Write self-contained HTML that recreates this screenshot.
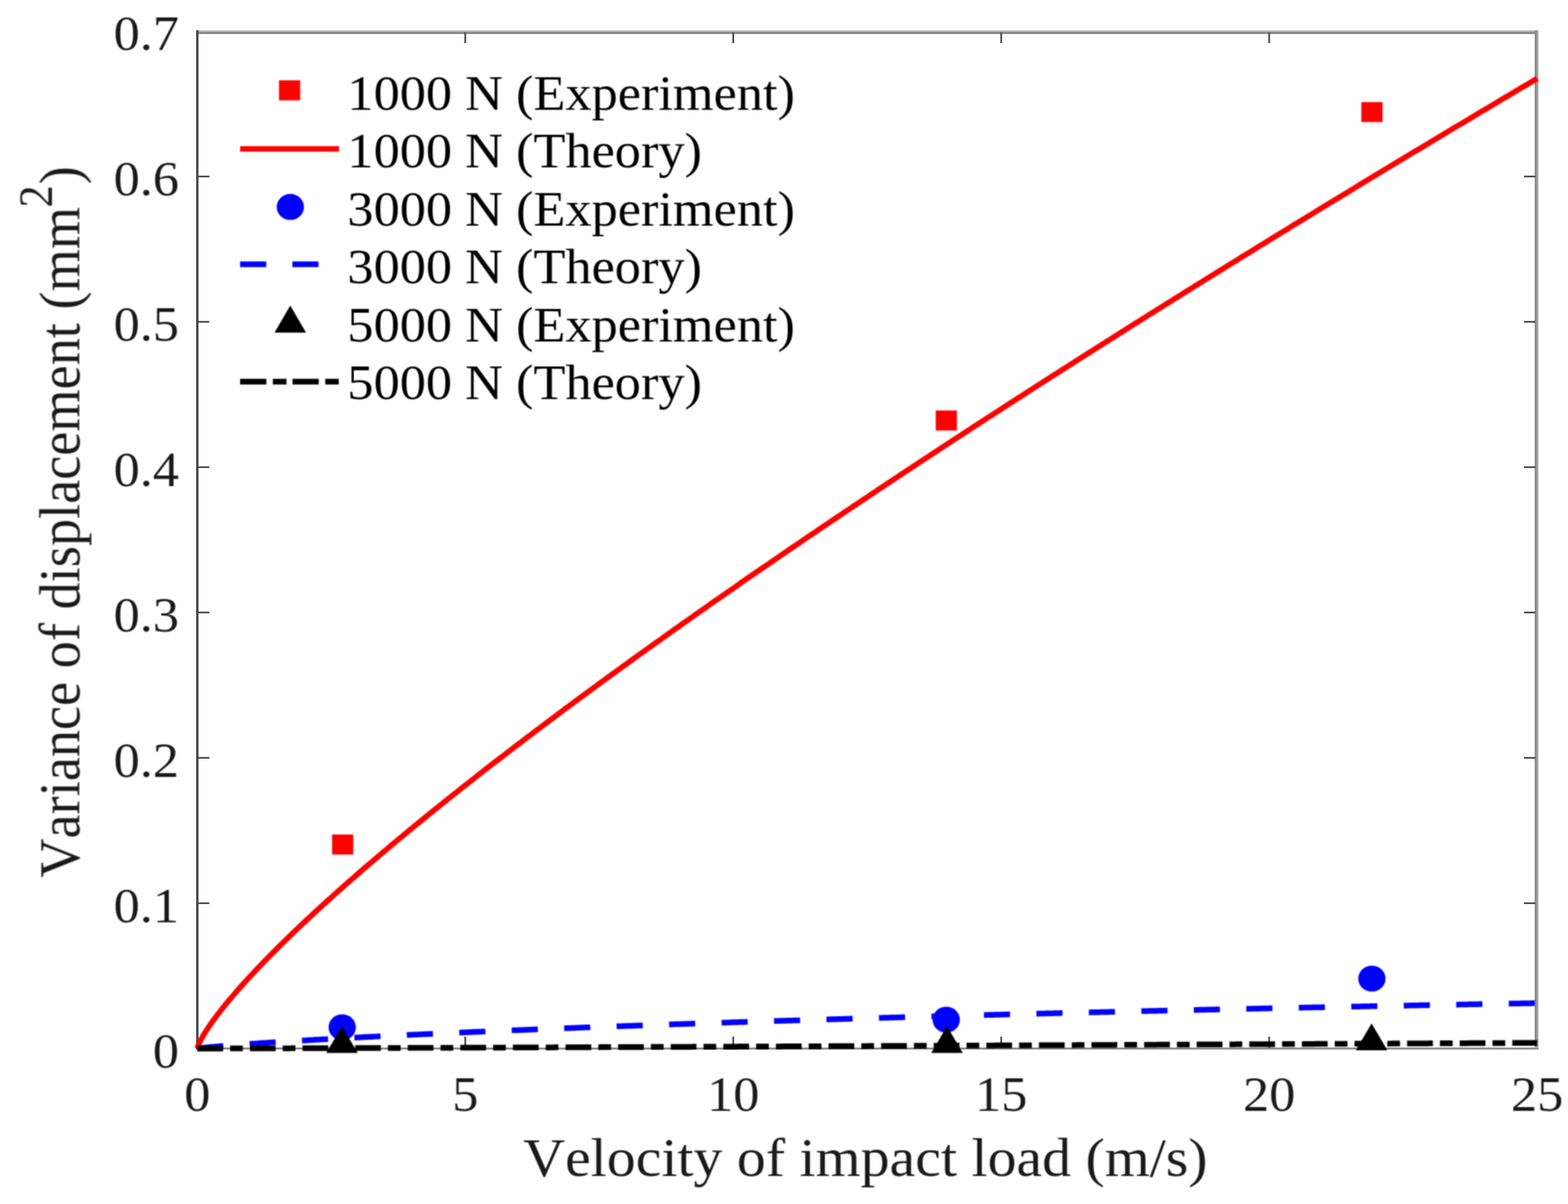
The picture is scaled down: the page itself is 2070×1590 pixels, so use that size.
<!DOCTYPE html>
<html><head><meta charset="utf-8"><title>Variance of displacement vs velocity</title>
<style>html,body{margin:0;padding:0;background:#fff;overflow:hidden}svg{display:block}text{font-family:"Liberation Serif","Times New Roman",serif;font-kerning:none;font-feature-settings:"kern" 0}</style></head><body>
<svg width="2070" height="1590" viewBox="0 0 2070 1590"><defs><filter id="soft" x="0" y="0" width="2070" height="1590" filterUnits="userSpaceOnUse" primitiveUnits="userSpaceOnUse" color-interpolation-filters="sRGB"><feConvolveMatrix order="3" kernelMatrix="1 2 1 2 4 2 1 2 1" divisor="16" edgeMode="none"/></filter></defs>
<rect width="2070" height="1590" fill="#fff"/>
<g id="axes" shape-rendering="crispEdges">
<rect x="259.3" y="40" width="1771.6" height="2" fill="#bdbdbd"/>
<rect x="259.3" y="42" width="1771.6" height="2.5" fill="#8a8a8a"/>
<rect x="2026.2" y="40" width="2.4" height="1346" fill="#8e8e8e"/>
<rect x="2028.6" y="40" width="2.3" height="1346" fill="#ababab"/>
<rect x="259.3" y="1382.6" width="1771.6" height="1.6" fill="#b5b5b5"/>
<rect x="259.3" y="1384.2" width="1771.6" height="1.8" fill="#909090"/>
<rect x="259.3" y="40" width="2.5" height="1346" fill="#474747"/>
</g>
<g id="ticks" stroke="#4a4a4a" stroke-width="2.3">
<line x1="614.25" y1="1384" x2="614.25" y2="1369"/>
<line x1="614.25" y1="43" x2="614.25" y2="57"/>
<line x1="968.00" y1="1384" x2="968.00" y2="1369"/>
<line x1="968.00" y1="43" x2="968.00" y2="57"/>
<line x1="1321.75" y1="1384" x2="1321.75" y2="1369"/>
<line x1="1321.75" y1="43" x2="1321.75" y2="57"/>
<line x1="1675.50" y1="1384" x2="1675.50" y2="1369"/>
<line x1="1675.50" y1="43" x2="1675.50" y2="57"/>
<line x1="261.5" y1="1192.76" x2="276.4" y2="1192.76"/>
<line x1="2027" y1="1192.76" x2="2012" y2="1192.76"/>
<line x1="261.5" y1="1000.82" x2="276.4" y2="1000.82"/>
<line x1="2027" y1="1000.82" x2="2012" y2="1000.82"/>
<line x1="261.5" y1="808.88" x2="276.4" y2="808.88"/>
<line x1="2027" y1="808.88" x2="2012" y2="808.88"/>
<line x1="261.5" y1="616.94" x2="276.4" y2="616.94"/>
<line x1="2027" y1="616.94" x2="2012" y2="616.94"/>
<line x1="261.5" y1="425.00" x2="276.4" y2="425.00"/>
<line x1="2027" y1="425.00" x2="2012" y2="425.00"/>
<line x1="261.5" y1="233.06" x2="276.4" y2="233.06"/>
<line x1="2027" y1="233.06" x2="2012" y2="233.06"/>
</g>
<g filter="url(#soft)">
<g id="yticklabels" fill="#1a1a1a" font-size="66">
<text transform="translate(236.4,1409.50) scale(1.047,1)" text-anchor="end">0</text>
<text transform="translate(236.4,1217.56) scale(1.047,1)" text-anchor="end">0.1</text>
<text transform="translate(236.4,1025.62) scale(1.047,1)" text-anchor="end">0.2</text>
<text transform="translate(236.4,833.68) scale(1.047,1)" text-anchor="end">0.3</text>
<text transform="translate(236.4,641.74) scale(1.047,1)" text-anchor="end">0.4</text>
<text transform="translate(236.4,449.80) scale(1.047,1)" text-anchor="end">0.5</text>
<text transform="translate(236.4,257.86) scale(1.047,1)" text-anchor="end">0.6</text>
<text transform="translate(236.4,65.92) scale(1.047,1)" text-anchor="end">0.7</text>
</g>
<g id="xticklabels" fill="#1a1a1a" font-size="66">
<text transform="translate(260.50,1467) scale(1.047,1)" text-anchor="middle">0</text>
<text transform="translate(614.25,1467) scale(1.047,1)" text-anchor="middle">5</text>
<text transform="translate(968.00,1467) scale(1.047,1)" text-anchor="middle">10</text>
<text transform="translate(1321.75,1467) scale(1.047,1)" text-anchor="middle">15</text>
<text transform="translate(1675.50,1467) scale(1.047,1)" text-anchor="middle">20</text>
<text transform="translate(2029.25,1467) scale(1.047,1)" text-anchor="middle">25</text>
</g>
<text id="xlabel" fill="#1a1a1a" font-size="72.6" transform="translate(1142.5,1552.5) scale(1.052,1)" text-anchor="middle">Velocity of impact load (m/s)</text>
<g id="ylabel" fill="#1a1a1a" transform="translate(105,1159.1) scale(1.061,1) rotate(-90)"><text font-size="71.7">Variance of displacement (mm</text><text x="884.9" y="-34.2" font-size="59">2</text><text x="915.8" font-size="71.7">)</text></g>
<g id="data" fill="none" stroke-linejoin="round">
<path d="M260.50,1384.70 L261.09,1382.40 L261.68,1380.77 L262.27,1379.32 L262.86,1377.97 L263.45,1376.70 L264.04,1375.48 L264.63,1374.31 L265.22,1373.17 L265.81,1372.07 L266.40,1370.98 L266.99,1369.93 L267.57,1368.89 L268.16,1367.87 L268.75,1366.87 L269.34,1365.89 L269.93,1364.91 L270.52,1363.95 L271.11,1363.01 L271.70,1362.07 L272.29,1361.14 L272.88,1360.23 L273.47,1359.32 L274.06,1358.42 L274.65,1357.53 L275.24,1356.65 L275.83,1355.78 L276.42,1354.91 L277.01,1354.05 L277.60,1353.19 L278.19,1352.35 L278.78,1351.50 L279.37,1350.67 L279.96,1349.84 L280.55,1349.01 L281.14,1348.19 L281.73,1347.37 L282.31,1346.56 L282.90,1345.76 L283.49,1344.95 L284.08,1344.16 L284.67,1343.36 L285.26,1342.57 L285.85,1341.79 L286.44,1341.00 L287.03,1340.23 L287.62,1339.45 L288.21,1338.68 L288.80,1337.91 L289.39,1337.15 L289.98,1336.39 L290.57,1335.63 L291.16,1334.87 L291.75,1334.12 L292.34,1333.37 L292.93,1332.62 L293.52,1331.88 L294.11,1331.14 L294.70,1330.40 L295.29,1329.67 L295.88,1328.93 L298.77,1325.37 L301.66,1321.86 L304.56,1318.41 L307.45,1314.99 L310.34,1311.63 L313.24,1308.30 L316.13,1305.00 L319.03,1301.75 L321.92,1298.52 L324.81,1295.33 L327.71,1292.16 L330.60,1289.02 L333.49,1285.91 L336.39,1282.82 L339.28,1279.75 L342.18,1276.71 L345.07,1273.69 L347.96,1270.69 L350.86,1267.71 L353.75,1264.75 L356.64,1261.80 L359.54,1258.88 L362.43,1255.97 L365.33,1253.08 L368.22,1250.20 L371.11,1247.34 L374.01,1244.49 L376.90,1241.65 L379.79,1238.84 L382.69,1236.03 L385.58,1233.24 L388.48,1230.46 L391.37,1227.69 L394.26,1224.93 L397.16,1222.19 L400.05,1219.45 L402.94,1216.73 L405.84,1214.02 L408.73,1211.32 L411.63,1208.63 L414.52,1205.95 L417.41,1203.28 L420.31,1200.62 L423.20,1197.96 L426.10,1195.32 L428.99,1192.69 L431.88,1190.06 L434.78,1187.45 L437.67,1184.84 L440.56,1182.24 L443.46,1179.64 L446.35,1177.06 L449.25,1174.48 L452.14,1171.92 L455.03,1169.35 L457.93,1166.80 L460.82,1164.25 L463.71,1161.71 L466.61,1159.18 L469.50,1156.65 L472.40,1154.13 L475.29,1151.62 L478.18,1149.11 L481.08,1146.61 L483.97,1144.12 L486.86,1141.63 L489.76,1139.15 L492.65,1136.68 L495.55,1134.21 L498.44,1131.74 L501.33,1129.28 L504.23,1126.83 L507.12,1124.38 L510.01,1121.94 L512.91,1119.51 L515.80,1117.08 L518.70,1114.65 L521.59,1112.23 L524.48,1109.81 L527.38,1107.40 L530.27,1105.00 L533.17,1102.60 L536.06,1100.20 L538.95,1097.81 L541.85,1095.42 L544.74,1093.04 L547.63,1090.66 L550.53,1088.29 L553.42,1085.92 L556.32,1083.56 L559.21,1081.20 L562.10,1078.84 L565.00,1076.49 L567.89,1074.15 L570.78,1071.80 L573.68,1069.46 L576.57,1067.13 L579.47,1064.80 L582.36,1062.47 L585.25,1060.15 L588.15,1057.83 L591.04,1055.52 L593.93,1053.20 L596.83,1050.90 L599.72,1048.59 L602.62,1046.29 L605.51,1044.00 L608.40,1041.70 L611.30,1039.41 L614.19,1037.13 L617.08,1034.85 L619.98,1032.57 L622.87,1030.29 L625.77,1028.02 L628.66,1025.75 L631.55,1023.49 L634.45,1021.22 L637.34,1018.97 L640.23,1016.71 L643.13,1014.46 L646.02,1012.21 L648.92,1009.96 L651.81,1007.72 L654.70,1005.48 L657.60,1003.24 L660.49,1001.01 L663.39,998.78 L666.28,996.55 L669.17,994.32 L672.07,992.10 L674.96,989.88 L677.85,987.67 L680.75,985.45 L683.64,983.24 L686.54,981.04 L689.43,978.83 L692.32,976.63 L695.22,974.43 L698.11,972.23 L701.00,970.04 L703.90,967.85 L706.79,965.66 L709.69,963.47 L712.58,961.29 L715.47,959.11 L718.37,956.93 L721.26,954.75 L724.15,952.58 L727.05,950.41 L729.94,948.24 L732.84,946.07 L735.73,943.91 L738.62,941.75 L741.52,939.59 L744.41,937.43 L747.30,935.28 L750.20,933.12 L753.09,930.98 L755.99,928.83 L758.88,926.68 L761.77,924.54 L764.67,922.40 L767.56,920.26 L770.46,918.13 L773.35,915.99 L776.24,913.86 L779.14,911.73 L782.03,909.60 L784.92,907.48 L787.82,905.36 L790.71,903.24 L793.61,901.12 L796.50,899.00 L799.39,896.89 L802.29,894.77 L805.18,892.66 L808.07,890.56 L810.97,888.45 L813.86,886.35 L816.76,884.24 L819.65,882.14 L822.54,880.05 L825.44,877.95 L828.33,875.85 L831.22,873.76 L834.12,871.67 L837.01,869.58 L839.91,867.50 L842.80,865.41 L845.69,863.33 L848.59,861.25 L851.48,859.17 L854.37,857.09 L857.27,855.02 L860.16,852.94 L863.06,850.87 L865.95,848.80 L868.84,846.73 L871.74,844.67 L874.63,842.60 L877.53,840.54 L880.42,838.48 L883.31,836.42 L886.21,834.36 L889.10,832.30 L891.99,830.25 L894.89,828.20 L897.78,826.15 L900.68,824.10 L903.57,822.05 L906.46,820.00 L909.36,817.96 L912.25,815.92 L915.14,813.88 L918.04,811.84 L920.93,809.80 L923.83,807.76 L926.72,805.73 L929.61,803.70 L932.51,801.66 L935.40,799.63 L938.29,797.61 L941.19,795.58 L944.08,793.55 L946.98,791.53 L949.87,789.51 L952.76,787.49 L955.66,785.47 L958.55,783.45 L961.44,781.44 L964.34,779.42 L967.23,777.41 L970.13,775.40 L973.02,773.39 L975.91,771.38 L978.81,769.37 L981.70,767.37 L984.59,765.36 L987.49,763.36 L990.38,761.36 L993.28,759.36 L996.17,757.36 L999.06,755.36 L1001.96,753.37 L1004.85,751.37 L1007.75,749.38 L1010.64,747.39 L1013.53,745.40 L1016.43,743.41 L1019.32,741.42 L1022.21,739.44 L1025.11,737.45 L1028.00,735.47 L1030.90,733.49 L1033.79,731.50 L1036.68,729.53 L1039.58,727.55 L1042.47,725.57 L1045.36,723.59 L1048.26,721.62 L1051.15,719.65 L1054.05,717.68 L1056.94,715.71 L1059.83,713.74 L1062.73,711.77 L1065.62,709.80 L1068.51,707.84 L1071.41,705.87 L1074.30,703.91 L1077.20,701.95 L1080.09,699.99 L1082.98,698.03 L1085.88,696.07 L1088.77,694.12 L1091.66,692.16 L1094.56,690.21 L1097.45,688.25 L1100.35,686.30 L1103.24,684.35 L1106.13,682.40 L1109.03,680.45 L1111.92,678.51 L1114.82,676.56 L1117.71,674.62 L1120.60,672.67 L1123.50,670.73 L1126.39,668.79 L1129.28,666.85 L1132.18,664.91 L1135.07,662.97 L1137.97,661.03 L1140.86,659.10 L1143.75,657.16 L1146.65,655.23 L1149.54,653.30 L1152.43,651.37 L1155.33,649.44 L1158.22,647.51 L1161.12,645.58 L1164.01,643.66 L1166.90,641.73 L1169.80,639.81 L1172.69,637.88 L1175.58,635.96 L1178.48,634.04 L1181.37,632.12 L1184.27,630.20 L1187.16,628.28 L1190.05,626.36 L1192.95,624.45 L1195.84,622.53 L1198.73,620.62 L1201.63,618.71 L1204.52,616.79 L1207.42,614.88 L1210.31,612.97 L1213.20,611.07 L1216.10,609.16 L1218.99,607.25 L1221.89,605.35 L1224.78,603.44 L1227.67,601.54 L1230.57,599.64 L1233.46,597.73 L1236.35,595.83 L1239.25,593.93 L1242.14,592.03 L1245.04,590.14 L1247.93,588.24 L1250.82,586.34 L1253.72,584.45 L1256.61,582.56 L1259.50,580.66 L1262.40,578.77 L1265.29,576.88 L1268.19,574.99 L1271.08,573.10 L1273.97,571.21 L1276.87,569.33 L1279.76,567.44 L1282.65,565.56 L1285.55,563.67 L1288.44,561.79 L1291.34,559.91 L1294.23,558.02 L1297.12,556.14 L1300.02,554.26 L1302.91,552.39 L1305.80,550.51 L1308.70,548.63 L1311.59,546.76 L1314.49,544.88 L1317.38,543.01 L1320.27,541.13 L1323.17,539.26 L1326.06,537.39 L1328.95,535.52 L1331.85,533.65 L1334.74,531.78 L1337.64,529.91 L1340.53,528.04 L1343.42,526.18 L1346.32,524.31 L1349.21,522.45 L1352.11,520.59 L1355.00,518.72 L1357.89,516.86 L1360.79,515.00 L1363.68,513.14 L1366.57,511.28 L1369.47,509.42 L1372.36,507.56 L1375.26,505.71 L1378.15,503.85 L1381.04,502.00 L1383.94,500.14 L1386.83,498.29 L1389.72,496.44 L1392.62,494.58 L1395.51,492.73 L1398.41,490.88 L1401.30,489.03 L1404.19,487.19 L1407.09,485.34 L1409.98,483.49 L1412.87,481.65 L1415.77,479.80 L1418.66,477.96 L1421.56,476.11 L1424.45,474.27 L1427.34,472.43 L1430.24,470.59 L1433.13,468.75 L1436.02,466.91 L1438.92,465.07 L1441.81,463.23 L1444.71,461.39 L1447.60,459.56 L1450.49,457.72 L1453.39,455.89 L1456.28,454.05 L1459.18,452.22 L1462.07,450.38 L1464.96,448.55 L1467.86,446.72 L1470.75,444.89 L1473.64,443.06 L1476.54,441.23 L1479.43,439.40 L1482.33,437.58 L1485.22,435.75 L1488.11,433.93 L1491.01,432.10 L1493.90,430.28 L1496.79,428.45 L1499.69,426.63 L1502.58,424.81 L1505.48,422.99 L1508.37,421.17 L1511.26,419.35 L1514.16,417.53 L1517.05,415.71 L1519.94,413.89 L1522.84,412.07 L1525.73,410.26 L1528.63,408.44 L1531.52,406.63 L1534.41,404.81 L1537.31,403.00 L1540.20,401.19 L1543.09,399.37 L1545.99,397.56 L1548.88,395.75 L1551.78,393.94 L1554.67,392.13 L1557.56,390.32 L1560.46,388.52 L1563.35,386.71 L1566.24,384.90 L1569.14,383.10 L1572.03,381.29 L1574.93,379.49 L1577.82,377.68 L1580.71,375.88 L1583.61,374.08 L1586.50,372.28 L1589.40,370.48 L1592.29,368.68 L1595.18,366.88 L1598.08,365.08 L1600.97,363.28 L1603.86,361.48 L1606.76,359.69 L1609.65,357.89 L1612.55,356.09 L1615.44,354.30 L1618.33,352.50 L1621.23,350.71 L1624.12,348.92 L1627.01,347.13 L1629.91,345.33 L1632.80,343.54 L1635.70,341.75 L1638.59,339.96 L1641.48,338.17 L1644.38,336.39 L1647.27,334.60 L1650.16,332.81 L1653.06,331.02 L1655.95,329.24 L1658.85,327.45 L1661.74,325.67 L1664.63,323.88 L1667.53,322.10 L1670.42,320.32 L1673.31,318.54 L1676.21,316.75 L1679.10,314.97 L1682.00,313.19 L1684.89,311.41 L1687.78,309.64 L1690.68,307.86 L1693.57,306.08 L1696.47,304.30 L1699.36,302.53 L1702.25,300.75 L1705.15,298.97 L1708.04,297.20 L1710.93,295.43 L1713.83,293.65 L1716.72,291.88 L1719.62,290.11 L1722.51,288.34 L1725.40,286.57 L1728.30,284.79 L1731.19,283.03 L1734.08,281.26 L1736.98,279.49 L1739.87,277.72 L1742.77,275.95 L1745.66,274.18 L1748.55,272.42 L1751.45,270.65 L1754.34,268.89 L1757.23,267.12 L1760.13,265.36 L1763.02,263.60 L1765.92,261.83 L1768.81,260.07 L1771.70,258.31 L1774.60,256.55 L1777.49,254.79 L1780.38,253.03 L1783.28,251.27 L1786.17,249.51 L1789.07,247.75 L1791.96,245.99 L1794.85,244.24 L1797.75,242.48 L1800.64,240.73 L1803.54,238.97 L1806.43,237.22 L1809.32,235.46 L1812.22,233.71 L1815.11,231.95 L1818.00,230.20 L1820.90,228.45 L1823.79,226.70 L1826.69,224.95 L1829.58,223.20 L1832.47,221.45 L1835.37,219.70 L1838.26,217.95 L1841.15,216.20 L1844.05,214.45 L1846.94,212.71 L1849.84,210.96 L1852.73,209.21 L1855.62,207.47 L1858.52,205.72 L1861.41,203.98 L1864.30,202.24 L1867.20,200.49 L1870.09,198.75 L1872.99,197.01 L1875.88,195.27 L1878.77,193.53 L1881.67,191.79 L1884.56,190.04 L1887.45,188.31 L1890.35,186.57 L1893.24,184.83 L1896.14,183.09 L1899.03,181.35 L1901.92,179.62 L1904.82,177.88 L1907.71,176.14 L1910.60,174.41 L1913.50,172.67 L1916.39,170.94 L1919.29,169.21 L1922.18,167.47 L1925.07,165.74 L1927.97,164.01 L1930.86,162.28 L1933.76,160.54 L1936.65,158.81 L1939.54,157.08 L1942.44,155.35 L1945.33,153.62 L1948.22,151.90 L1951.12,150.17 L1954.01,148.44 L1956.91,146.71 L1959.80,144.99 L1962.69,143.26 L1965.59,141.53 L1968.48,139.81 L1971.37,138.08 L1974.27,136.36 L1977.16,134.64 L1980.06,132.91 L1982.95,131.19 L1985.84,129.47 L1988.74,127.75 L1991.63,126.02 L1994.52,124.30 L1997.42,122.58 L2000.31,120.86 L2003.21,119.14 L2006.10,117.43 L2008.99,115.71 L2011.89,113.99 L2014.78,112.27 L2017.67,110.55 L2020.57,108.84 L2023.46,107.12 L2026.36,105.41 L2029.25,103.69" stroke="#ff0000" stroke-width="7.3"/>
</g>
<rect x="438.40" y="1102.10" width="28" height="26.4" fill="#ff0000"/>
<rect x="1235.30" y="542.10" width="28" height="26.4" fill="#ff0000"/>
<rect x="1797.20" y="134.80" width="28" height="26.4" fill="#ff0000"/>
<ellipse cx="451.80" cy="1356.60" rx="18" ry="17.2" fill="#0000ff"/>
<ellipse cx="1249.20" cy="1346.70" rx="18" ry="17.2" fill="#0000ff"/>
<ellipse cx="1811.10" cy="1292.40" rx="18" ry="17.2" fill="#0000ff"/>
<path d="M260.50,1384.70 L261.09,1384.60 L261.68,1384.51 L262.27,1384.43 L262.86,1384.35 L263.45,1384.27 L264.04,1384.20 L264.63,1384.13 L265.22,1384.06 L265.81,1383.99 L266.40,1383.92 L266.99,1383.86 L267.57,1383.79 L268.16,1383.73 L268.75,1383.66 L269.34,1383.60 L269.93,1383.54 L270.52,1383.47 L271.11,1383.41 L271.70,1383.35 L272.29,1383.29 L272.88,1383.23 L273.47,1383.17 L274.06,1383.12 L274.65,1383.06 L275.24,1383.00 L275.83,1382.94 L276.42,1382.89 L277.01,1382.83 L277.60,1382.77 L278.19,1382.72 L278.78,1382.66 L279.37,1382.61 L279.96,1382.55 L280.55,1382.50 L281.14,1382.44 L281.73,1382.39 L282.31,1382.34 L282.90,1382.28 L283.49,1382.23 L284.08,1382.18 L284.67,1382.12 L285.26,1382.07 L285.85,1382.02 L286.44,1381.97 L287.03,1381.92 L287.62,1381.86 L288.21,1381.81 L288.80,1381.76 L289.39,1381.71 L289.98,1381.66 L290.57,1381.61 L291.16,1381.56 L291.75,1381.51 L292.34,1381.46 L292.93,1381.41 L293.52,1381.36 L294.11,1381.31 L294.70,1381.26 L295.29,1381.21 L295.88,1381.17 L298.77,1380.93 L301.66,1380.70 L304.56,1380.47 L307.45,1380.24 L310.34,1380.02 L313.24,1379.80 L316.13,1379.58 L319.03,1379.37 L321.92,1379.15 L324.81,1378.94 L327.71,1378.74 L330.60,1378.53 L333.49,1378.33 L336.39,1378.12 L339.28,1377.93 L342.18,1377.73 L345.07,1377.53 L347.96,1377.34 L350.86,1377.14 L353.75,1376.95 L356.64,1376.76 L359.54,1376.57 L362.43,1376.39 L365.33,1376.20 L368.22,1376.02 L371.11,1375.83 L374.01,1375.65 L376.90,1375.47 L379.79,1375.29 L382.69,1375.11 L385.58,1374.94 L388.48,1374.76 L391.37,1374.59 L394.26,1374.41 L397.16,1374.24 L400.05,1374.07 L402.94,1373.90 L405.84,1373.73 L408.73,1373.56 L411.63,1373.39 L414.52,1373.22 L417.41,1373.06 L420.31,1372.89 L423.20,1372.73 L426.10,1372.57 L428.99,1372.40 L431.88,1372.24 L434.78,1372.08 L437.67,1371.92 L440.56,1371.76 L443.46,1371.60 L446.35,1371.45 L449.25,1371.29 L452.14,1371.13 L455.03,1370.98 L457.93,1370.82 L460.82,1370.67 L463.71,1370.51 L466.61,1370.36 L469.50,1370.21 L472.40,1370.06 L475.29,1369.91 L478.18,1369.76 L481.08,1369.61 L483.97,1369.46 L486.86,1369.31 L489.76,1369.16 L492.65,1369.02 L495.55,1368.87 L498.44,1368.73 L501.33,1368.58 L504.23,1368.44 L507.12,1368.29 L510.01,1368.15 L512.91,1368.01 L515.80,1367.86 L518.70,1367.72 L521.59,1367.58 L524.48,1367.44 L527.38,1367.30 L530.27,1367.16 L533.17,1367.02 L536.06,1366.88 L538.95,1366.74 L541.85,1366.61 L544.74,1366.47 L547.63,1366.33 L550.53,1366.20 L553.42,1366.06 L556.32,1365.92 L559.21,1365.79 L562.10,1365.66 L565.00,1365.52 L567.89,1365.39 L570.78,1365.26 L573.68,1365.12 L576.57,1364.99 L579.47,1364.86 L582.36,1364.73 L585.25,1364.60 L588.15,1364.47 L591.04,1364.34 L593.93,1364.21 L596.83,1364.08 L599.72,1363.95 L602.62,1363.82 L605.51,1363.69 L608.40,1363.57 L611.30,1363.44 L614.19,1363.31 L617.08,1363.19 L619.98,1363.06 L622.87,1362.93 L625.77,1362.81 L628.66,1362.68 L631.55,1362.56 L634.45,1362.44 L637.34,1362.31 L640.23,1362.19 L643.13,1362.07 L646.02,1361.94 L648.92,1361.82 L651.81,1361.70 L654.70,1361.58 L657.60,1361.46 L660.49,1361.34 L663.39,1361.22 L666.28,1361.10 L669.17,1360.98 L672.07,1360.86 L674.96,1360.74 L677.85,1360.62 L680.75,1360.50 L683.64,1360.38 L686.54,1360.26 L689.43,1360.15 L692.32,1360.03 L695.22,1359.91 L698.11,1359.80 L701.00,1359.68 L703.90,1359.56 L706.79,1359.45 L709.69,1359.33 L712.58,1359.22 L715.47,1359.10 L718.37,1358.99 L721.26,1358.87 L724.15,1358.76 L727.05,1358.65 L729.94,1358.53 L732.84,1358.42 L735.73,1358.31 L738.62,1358.20 L741.52,1358.08 L744.41,1357.97 L747.30,1357.86 L750.20,1357.75 L753.09,1357.64 L755.99,1357.53 L758.88,1357.42 L761.77,1357.31 L764.67,1357.20 L767.56,1357.09 L770.46,1356.98 L773.35,1356.87 L776.24,1356.76 L779.14,1356.65 L782.03,1356.54 L784.92,1356.44 L787.82,1356.33 L790.71,1356.22 L793.61,1356.11 L796.50,1356.01 L799.39,1355.90 L802.29,1355.79 L805.18,1355.69 L808.07,1355.58 L810.97,1355.48 L813.86,1355.37 L816.76,1355.27 L819.65,1355.16 L822.54,1355.06 L825.44,1354.95 L828.33,1354.85 L831.22,1354.74 L834.12,1354.64 L837.01,1354.54 L839.91,1354.43 L842.80,1354.33 L845.69,1354.23 L848.59,1354.13 L851.48,1354.02 L854.37,1353.92 L857.27,1353.82 L860.16,1353.72 L863.06,1353.62 L865.95,1353.52 L868.84,1353.41 L871.74,1353.31 L874.63,1353.21 L877.53,1353.11 L880.42,1353.01 L883.31,1352.91 L886.21,1352.81 L889.10,1352.71 L891.99,1352.61 L894.89,1352.52 L897.78,1352.42 L900.68,1352.32 L903.57,1352.22 L906.46,1352.12 L909.36,1352.02 L912.25,1351.93 L915.14,1351.83 L918.04,1351.73 L920.93,1351.63 L923.83,1351.54 L926.72,1351.44 L929.61,1351.34 L932.51,1351.25 L935.40,1351.15 L938.29,1351.06 L941.19,1350.96 L944.08,1350.87 L946.98,1350.77 L949.87,1350.68 L952.76,1350.58 L955.66,1350.49 L958.55,1350.39 L961.44,1350.30 L964.34,1350.20 L967.23,1350.11 L970.13,1350.02 L973.02,1349.92 L975.91,1349.83 L978.81,1349.74 L981.70,1349.64 L984.59,1349.55 L987.49,1349.46 L990.38,1349.37 L993.28,1349.27 L996.17,1349.18 L999.06,1349.09 L1001.96,1349.00 L1004.85,1348.91 L1007.75,1348.82 L1010.64,1348.72 L1013.53,1348.63 L1016.43,1348.54 L1019.32,1348.45 L1022.21,1348.36 L1025.11,1348.27 L1028.00,1348.18 L1030.90,1348.09 L1033.79,1348.00 L1036.68,1347.91 L1039.58,1347.82 L1042.47,1347.73 L1045.36,1347.65 L1048.26,1347.56 L1051.15,1347.47 L1054.05,1347.38 L1056.94,1347.29 L1059.83,1347.20 L1062.73,1347.12 L1065.62,1347.03 L1068.51,1346.94 L1071.41,1346.85 L1074.30,1346.77 L1077.20,1346.68 L1080.09,1346.59 L1082.98,1346.50 L1085.88,1346.42 L1088.77,1346.33 L1091.66,1346.25 L1094.56,1346.16 L1097.45,1346.07 L1100.35,1345.99 L1103.24,1345.90 L1106.13,1345.82 L1109.03,1345.73 L1111.92,1345.65 L1114.82,1345.56 L1117.71,1345.48 L1120.60,1345.39 L1123.50,1345.31 L1126.39,1345.22 L1129.28,1345.14 L1132.18,1345.06 L1135.07,1344.97 L1137.97,1344.89 L1140.86,1344.80 L1143.75,1344.72 L1146.65,1344.64 L1149.54,1344.55 L1152.43,1344.47 L1155.33,1344.39 L1158.22,1344.31 L1161.12,1344.22 L1164.01,1344.14 L1166.90,1344.06 L1169.80,1343.98 L1172.69,1343.90 L1175.58,1343.81 L1178.48,1343.73 L1181.37,1343.65 L1184.27,1343.57 L1187.16,1343.49 L1190.05,1343.41 L1192.95,1343.33 L1195.84,1343.25 L1198.73,1343.16 L1201.63,1343.08 L1204.52,1343.00 L1207.42,1342.92 L1210.31,1342.84 L1213.20,1342.76 L1216.10,1342.68 L1218.99,1342.61 L1221.89,1342.53 L1224.78,1342.45 L1227.67,1342.37 L1230.57,1342.29 L1233.46,1342.21 L1236.35,1342.13 L1239.25,1342.05 L1242.14,1341.97 L1245.04,1341.90 L1247.93,1341.82 L1250.82,1341.74 L1253.72,1341.66 L1256.61,1341.58 L1259.50,1341.51 L1262.40,1341.43 L1265.29,1341.35 L1268.19,1341.27 L1271.08,1341.20 L1273.97,1341.12 L1276.87,1341.04 L1279.76,1340.97 L1282.65,1340.89 L1285.55,1340.81 L1288.44,1340.74 L1291.34,1340.66 L1294.23,1340.58 L1297.12,1340.51 L1300.02,1340.43 L1302.91,1340.36 L1305.80,1340.28 L1308.70,1340.21 L1311.59,1340.13 L1314.49,1340.06 L1317.38,1339.98 L1320.27,1339.91 L1323.17,1339.83 L1326.06,1339.76 L1328.95,1339.68 L1331.85,1339.61 L1334.74,1339.53 L1337.64,1339.46 L1340.53,1339.39 L1343.42,1339.31 L1346.32,1339.24 L1349.21,1339.16 L1352.11,1339.09 L1355.00,1339.02 L1357.89,1338.94 L1360.79,1338.87 L1363.68,1338.80 L1366.57,1338.73 L1369.47,1338.65 L1372.36,1338.58 L1375.26,1338.51 L1378.15,1338.44 L1381.04,1338.36 L1383.94,1338.29 L1386.83,1338.22 L1389.72,1338.15 L1392.62,1338.08 L1395.51,1338.00 L1398.41,1337.93 L1401.30,1337.86 L1404.19,1337.79 L1407.09,1337.72 L1409.98,1337.65 L1412.87,1337.58 L1415.77,1337.51 L1418.66,1337.43 L1421.56,1337.36 L1424.45,1337.29 L1427.34,1337.22 L1430.24,1337.15 L1433.13,1337.08 L1436.02,1337.01 L1438.92,1336.94 L1441.81,1336.87 L1444.71,1336.80 L1447.60,1336.73 L1450.49,1336.66 L1453.39,1336.59 L1456.28,1336.53 L1459.18,1336.46 L1462.07,1336.39 L1464.96,1336.32 L1467.86,1336.25 L1470.75,1336.18 L1473.64,1336.11 L1476.54,1336.04 L1479.43,1335.98 L1482.33,1335.91 L1485.22,1335.84 L1488.11,1335.77 L1491.01,1335.70 L1493.90,1335.64 L1496.79,1335.57 L1499.69,1335.50 L1502.58,1335.43 L1505.48,1335.37 L1508.37,1335.30 L1511.26,1335.23 L1514.16,1335.16 L1517.05,1335.10 L1519.94,1335.03 L1522.84,1334.96 L1525.73,1334.90 L1528.63,1334.83 L1531.52,1334.76 L1534.41,1334.70 L1537.31,1334.63 L1540.20,1334.57 L1543.09,1334.50 L1545.99,1334.43 L1548.88,1334.37 L1551.78,1334.30 L1554.67,1334.24 L1557.56,1334.17 L1560.46,1334.11 L1563.35,1334.04 L1566.24,1333.98 L1569.14,1333.91 L1572.03,1333.85 L1574.93,1333.78 L1577.82,1333.72 L1580.71,1333.65 L1583.61,1333.59 L1586.50,1333.52 L1589.40,1333.46 L1592.29,1333.39 L1595.18,1333.33 L1598.08,1333.27 L1600.97,1333.20 L1603.86,1333.14 L1606.76,1333.07 L1609.65,1333.01 L1612.55,1332.95 L1615.44,1332.88 L1618.33,1332.82 L1621.23,1332.76 L1624.12,1332.69 L1627.01,1332.63 L1629.91,1332.57 L1632.80,1332.50 L1635.70,1332.44 L1638.59,1332.38 L1641.48,1332.32 L1644.38,1332.25 L1647.27,1332.19 L1650.16,1332.13 L1653.06,1332.07 L1655.95,1332.01 L1658.85,1331.94 L1661.74,1331.88 L1664.63,1331.82 L1667.53,1331.76 L1670.42,1331.70 L1673.31,1331.64 L1676.21,1331.57 L1679.10,1331.51 L1682.00,1331.45 L1684.89,1331.39 L1687.78,1331.33 L1690.68,1331.27 L1693.57,1331.21 L1696.47,1331.15 L1699.36,1331.09 L1702.25,1331.03 L1705.15,1330.97 L1708.04,1330.90 L1710.93,1330.84 L1713.83,1330.78 L1716.72,1330.72 L1719.62,1330.66 L1722.51,1330.60 L1725.40,1330.54 L1728.30,1330.49 L1731.19,1330.43 L1734.08,1330.37 L1736.98,1330.31 L1739.87,1330.25 L1742.77,1330.19 L1745.66,1330.13 L1748.55,1330.07 L1751.45,1330.01 L1754.34,1329.95 L1757.23,1329.89 L1760.13,1329.83 L1763.02,1329.78 L1765.92,1329.72 L1768.81,1329.66 L1771.70,1329.60 L1774.60,1329.54 L1777.49,1329.48 L1780.38,1329.43 L1783.28,1329.37 L1786.17,1329.31 L1789.07,1329.25 L1791.96,1329.19 L1794.85,1329.14 L1797.75,1329.08 L1800.64,1329.02 L1803.54,1328.96 L1806.43,1328.91 L1809.32,1328.85 L1812.22,1328.79 L1815.11,1328.74 L1818.00,1328.68 L1820.90,1328.62 L1823.79,1328.56 L1826.69,1328.51 L1829.58,1328.45 L1832.47,1328.39 L1835.37,1328.34 L1838.26,1328.28 L1841.15,1328.23 L1844.05,1328.17 L1846.94,1328.11 L1849.84,1328.06 L1852.73,1328.00 L1855.62,1327.95 L1858.52,1327.89 L1861.41,1327.83 L1864.30,1327.78 L1867.20,1327.72 L1870.09,1327.67 L1872.99,1327.61 L1875.88,1327.56 L1878.77,1327.50 L1881.67,1327.45 L1884.56,1327.39 L1887.45,1327.34 L1890.35,1327.28 L1893.24,1327.23 L1896.14,1327.17 L1899.03,1327.12 L1901.92,1327.06 L1904.82,1327.01 L1907.71,1326.95 L1910.60,1326.90 L1913.50,1326.85 L1916.39,1326.79 L1919.29,1326.74 L1922.18,1326.68 L1925.07,1326.63 L1927.97,1326.58 L1930.86,1326.52 L1933.76,1326.47 L1936.65,1326.42 L1939.54,1326.36 L1942.44,1326.31 L1945.33,1326.25 L1948.22,1326.20 L1951.12,1326.15 L1954.01,1326.10 L1956.91,1326.04 L1959.80,1325.99 L1962.69,1325.94 L1965.59,1325.88 L1968.48,1325.83 L1971.37,1325.78 L1974.27,1325.73 L1977.16,1325.67 L1980.06,1325.62 L1982.95,1325.57 L1985.84,1325.52 L1988.74,1325.46 L1991.63,1325.41 L1994.52,1325.36 L1997.42,1325.31 L2000.31,1325.26 L2003.21,1325.20 L2006.10,1325.15 L2008.99,1325.10 L2011.89,1325.05 L2014.78,1325.00 L2017.67,1324.95 L2020.57,1324.90 L2023.46,1324.84 L2026.36,1324.79 L2029.25,1324.74" fill="none" stroke="#0000ff" stroke-width="7.5" stroke-dasharray="34.5 34.8"/>
<polygon points="451.50,1355.50 430.70,1390.50 472.30,1390.50" fill="#000"/>
<polygon points="1250.20,1355.20 1229.40,1390.50 1271.00,1390.50" fill="#000"/>
<polygon points="1810.70,1351.50 1789.90,1387.00 1831.50,1387.00" fill="#000"/>
<path d="M260.50,1384.70 L261.09,1384.70 L261.68,1384.70 L262.27,1384.70 L262.86,1384.70 L263.45,1384.70 L264.04,1384.70 L264.63,1384.69 L265.22,1384.69 L265.81,1384.69 L266.40,1384.69 L266.99,1384.69 L267.57,1384.69 L268.16,1384.69 L268.75,1384.69 L269.34,1384.69 L269.93,1384.68 L270.52,1384.68 L271.11,1384.68 L271.70,1384.68 L272.29,1384.68 L272.88,1384.68 L273.47,1384.68 L274.06,1384.68 L274.65,1384.68 L275.24,1384.67 L275.83,1384.67 L276.42,1384.67 L277.01,1384.67 L277.60,1384.67 L278.19,1384.67 L278.78,1384.67 L279.37,1384.66 L279.96,1384.66 L280.55,1384.66 L281.14,1384.66 L281.73,1384.66 L282.31,1384.66 L282.90,1384.66 L283.49,1384.66 L284.08,1384.65 L284.67,1384.65 L285.26,1384.65 L285.85,1384.65 L286.44,1384.65 L287.03,1384.65 L287.62,1384.65 L288.21,1384.64 L288.80,1384.64 L289.39,1384.64 L289.98,1384.64 L290.57,1384.64 L291.16,1384.64 L291.75,1384.64 L292.34,1384.63 L292.93,1384.63 L293.52,1384.63 L294.11,1384.63 L294.70,1384.63 L295.29,1384.63 L295.88,1384.63 L298.77,1384.62 L301.66,1384.61 L304.56,1384.60 L307.45,1384.60 L310.34,1384.59 L313.24,1384.58 L316.13,1384.57 L319.03,1384.57 L321.92,1384.56 L324.81,1384.55 L327.71,1384.54 L330.60,1384.53 L333.49,1384.53 L336.39,1384.52 L339.28,1384.51 L342.18,1384.50 L345.07,1384.49 L347.96,1384.48 L350.86,1384.48 L353.75,1384.47 L356.64,1384.46 L359.54,1384.45 L362.43,1384.44 L365.33,1384.43 L368.22,1384.42 L371.11,1384.42 L374.01,1384.41 L376.90,1384.40 L379.79,1384.39 L382.69,1384.38 L385.58,1384.37 L388.48,1384.36 L391.37,1384.35 L394.26,1384.34 L397.16,1384.34 L400.05,1384.33 L402.94,1384.32 L405.84,1384.31 L408.73,1384.30 L411.63,1384.29 L414.52,1384.28 L417.41,1384.27 L420.31,1384.26 L423.20,1384.25 L426.10,1384.24 L428.99,1384.23 L431.88,1384.22 L434.78,1384.21 L437.67,1384.20 L440.56,1384.19 L443.46,1384.18 L446.35,1384.18 L449.25,1384.17 L452.14,1384.16 L455.03,1384.15 L457.93,1384.14 L460.82,1384.13 L463.71,1384.12 L466.61,1384.11 L469.50,1384.10 L472.40,1384.09 L475.29,1384.08 L478.18,1384.07 L481.08,1384.06 L483.97,1384.05 L486.86,1384.04 L489.76,1384.03 L492.65,1384.02 L495.55,1384.01 L498.44,1384.00 L501.33,1383.99 L504.23,1383.98 L507.12,1383.97 L510.01,1383.96 L512.91,1383.95 L515.80,1383.94 L518.70,1383.93 L521.59,1383.92 L524.48,1383.91 L527.38,1383.89 L530.27,1383.88 L533.17,1383.87 L536.06,1383.86 L538.95,1383.85 L541.85,1383.84 L544.74,1383.83 L547.63,1383.82 L550.53,1383.81 L553.42,1383.80 L556.32,1383.79 L559.21,1383.78 L562.10,1383.77 L565.00,1383.76 L567.89,1383.75 L570.78,1383.74 L573.68,1383.73 L576.57,1383.72 L579.47,1383.71 L582.36,1383.70 L585.25,1383.68 L588.15,1383.67 L591.04,1383.66 L593.93,1383.65 L596.83,1383.64 L599.72,1383.63 L602.62,1383.62 L605.51,1383.61 L608.40,1383.60 L611.30,1383.59 L614.19,1383.58 L617.08,1383.57 L619.98,1383.55 L622.87,1383.54 L625.77,1383.53 L628.66,1383.52 L631.55,1383.51 L634.45,1383.50 L637.34,1383.49 L640.23,1383.48 L643.13,1383.47 L646.02,1383.46 L648.92,1383.44 L651.81,1383.43 L654.70,1383.42 L657.60,1383.41 L660.49,1383.40 L663.39,1383.39 L666.28,1383.38 L669.17,1383.37 L672.07,1383.36 L674.96,1383.34 L677.85,1383.33 L680.75,1383.32 L683.64,1383.31 L686.54,1383.30 L689.43,1383.29 L692.32,1383.28 L695.22,1383.27 L698.11,1383.25 L701.00,1383.24 L703.90,1383.23 L706.79,1383.22 L709.69,1383.21 L712.58,1383.20 L715.47,1383.19 L718.37,1383.18 L721.26,1383.16 L724.15,1383.15 L727.05,1383.14 L729.94,1383.13 L732.84,1383.12 L735.73,1383.11 L738.62,1383.10 L741.52,1383.08 L744.41,1383.07 L747.30,1383.06 L750.20,1383.05 L753.09,1383.04 L755.99,1383.03 L758.88,1383.01 L761.77,1383.00 L764.67,1382.99 L767.56,1382.98 L770.46,1382.97 L773.35,1382.96 L776.24,1382.94 L779.14,1382.93 L782.03,1382.92 L784.92,1382.91 L787.82,1382.90 L790.71,1382.89 L793.61,1382.87 L796.50,1382.86 L799.39,1382.85 L802.29,1382.84 L805.18,1382.83 L808.07,1382.82 L810.97,1382.80 L813.86,1382.79 L816.76,1382.78 L819.65,1382.77 L822.54,1382.76 L825.44,1382.75 L828.33,1382.73 L831.22,1382.72 L834.12,1382.71 L837.01,1382.70 L839.91,1382.69 L842.80,1382.67 L845.69,1382.66 L848.59,1382.65 L851.48,1382.64 L854.37,1382.63 L857.27,1382.61 L860.16,1382.60 L863.06,1382.59 L865.95,1382.58 L868.84,1382.57 L871.74,1382.55 L874.63,1382.54 L877.53,1382.53 L880.42,1382.52 L883.31,1382.51 L886.21,1382.49 L889.10,1382.48 L891.99,1382.47 L894.89,1382.46 L897.78,1382.45 L900.68,1382.43 L903.57,1382.42 L906.46,1382.41 L909.36,1382.40 L912.25,1382.39 L915.14,1382.37 L918.04,1382.36 L920.93,1382.35 L923.83,1382.34 L926.72,1382.32 L929.61,1382.31 L932.51,1382.30 L935.40,1382.29 L938.29,1382.28 L941.19,1382.26 L944.08,1382.25 L946.98,1382.24 L949.87,1382.23 L952.76,1382.21 L955.66,1382.20 L958.55,1382.19 L961.44,1382.18 L964.34,1382.16 L967.23,1382.15 L970.13,1382.14 L973.02,1382.13 L975.91,1382.12 L978.81,1382.10 L981.70,1382.09 L984.59,1382.08 L987.49,1382.07 L990.38,1382.05 L993.28,1382.04 L996.17,1382.03 L999.06,1382.02 L1001.96,1382.00 L1004.85,1381.99 L1007.75,1381.98 L1010.64,1381.97 L1013.53,1381.95 L1016.43,1381.94 L1019.32,1381.93 L1022.21,1381.92 L1025.11,1381.90 L1028.00,1381.89 L1030.90,1381.88 L1033.79,1381.87 L1036.68,1381.85 L1039.58,1381.84 L1042.47,1381.83 L1045.36,1381.82 L1048.26,1381.80 L1051.15,1381.79 L1054.05,1381.78 L1056.94,1381.77 L1059.83,1381.75 L1062.73,1381.74 L1065.62,1381.73 L1068.51,1381.72 L1071.41,1381.70 L1074.30,1381.69 L1077.20,1381.68 L1080.09,1381.66 L1082.98,1381.65 L1085.88,1381.64 L1088.77,1381.63 L1091.66,1381.61 L1094.56,1381.60 L1097.45,1381.59 L1100.35,1381.58 L1103.24,1381.56 L1106.13,1381.55 L1109.03,1381.54 L1111.92,1381.52 L1114.82,1381.51 L1117.71,1381.50 L1120.60,1381.49 L1123.50,1381.47 L1126.39,1381.46 L1129.28,1381.45 L1132.18,1381.44 L1135.07,1381.42 L1137.97,1381.41 L1140.86,1381.40 L1143.75,1381.38 L1146.65,1381.37 L1149.54,1381.36 L1152.43,1381.35 L1155.33,1381.33 L1158.22,1381.32 L1161.12,1381.31 L1164.01,1381.29 L1166.90,1381.28 L1169.80,1381.27 L1172.69,1381.26 L1175.58,1381.24 L1178.48,1381.23 L1181.37,1381.22 L1184.27,1381.20 L1187.16,1381.19 L1190.05,1381.18 L1192.95,1381.16 L1195.84,1381.15 L1198.73,1381.14 L1201.63,1381.13 L1204.52,1381.11 L1207.42,1381.10 L1210.31,1381.09 L1213.20,1381.07 L1216.10,1381.06 L1218.99,1381.05 L1221.89,1381.03 L1224.78,1381.02 L1227.67,1381.01 L1230.57,1381.00 L1233.46,1380.98 L1236.35,1380.97 L1239.25,1380.96 L1242.14,1380.94 L1245.04,1380.93 L1247.93,1380.92 L1250.82,1380.90 L1253.72,1380.89 L1256.61,1380.88 L1259.50,1380.86 L1262.40,1380.85 L1265.29,1380.84 L1268.19,1380.82 L1271.08,1380.81 L1273.97,1380.80 L1276.87,1380.79 L1279.76,1380.77 L1282.65,1380.76 L1285.55,1380.75 L1288.44,1380.73 L1291.34,1380.72 L1294.23,1380.71 L1297.12,1380.69 L1300.02,1380.68 L1302.91,1380.67 L1305.80,1380.65 L1308.70,1380.64 L1311.59,1380.63 L1314.49,1380.61 L1317.38,1380.60 L1320.27,1380.59 L1323.17,1380.57 L1326.06,1380.56 L1328.95,1380.55 L1331.85,1380.53 L1334.74,1380.52 L1337.64,1380.51 L1340.53,1380.49 L1343.42,1380.48 L1346.32,1380.47 L1349.21,1380.45 L1352.11,1380.44 L1355.00,1380.43 L1357.89,1380.41 L1360.79,1380.40 L1363.68,1380.39 L1366.57,1380.37 L1369.47,1380.36 L1372.36,1380.35 L1375.26,1380.33 L1378.15,1380.32 L1381.04,1380.31 L1383.94,1380.29 L1386.83,1380.28 L1389.72,1380.27 L1392.62,1380.25 L1395.51,1380.24 L1398.41,1380.23 L1401.30,1380.21 L1404.19,1380.20 L1407.09,1380.19 L1409.98,1380.17 L1412.87,1380.16 L1415.77,1380.14 L1418.66,1380.13 L1421.56,1380.12 L1424.45,1380.10 L1427.34,1380.09 L1430.24,1380.08 L1433.13,1380.06 L1436.02,1380.05 L1438.92,1380.04 L1441.81,1380.02 L1444.71,1380.01 L1447.60,1380.00 L1450.49,1379.98 L1453.39,1379.97 L1456.28,1379.96 L1459.18,1379.94 L1462.07,1379.93 L1464.96,1379.91 L1467.86,1379.90 L1470.75,1379.89 L1473.64,1379.87 L1476.54,1379.86 L1479.43,1379.85 L1482.33,1379.83 L1485.22,1379.82 L1488.11,1379.81 L1491.01,1379.79 L1493.90,1379.78 L1496.79,1379.76 L1499.69,1379.75 L1502.58,1379.74 L1505.48,1379.72 L1508.37,1379.71 L1511.26,1379.70 L1514.16,1379.68 L1517.05,1379.67 L1519.94,1379.65 L1522.84,1379.64 L1525.73,1379.63 L1528.63,1379.61 L1531.52,1379.60 L1534.41,1379.59 L1537.31,1379.57 L1540.20,1379.56 L1543.09,1379.55 L1545.99,1379.53 L1548.88,1379.52 L1551.78,1379.50 L1554.67,1379.49 L1557.56,1379.48 L1560.46,1379.46 L1563.35,1379.45 L1566.24,1379.43 L1569.14,1379.42 L1572.03,1379.41 L1574.93,1379.39 L1577.82,1379.38 L1580.71,1379.37 L1583.61,1379.35 L1586.50,1379.34 L1589.40,1379.32 L1592.29,1379.31 L1595.18,1379.30 L1598.08,1379.28 L1600.97,1379.27 L1603.86,1379.26 L1606.76,1379.24 L1609.65,1379.23 L1612.55,1379.21 L1615.44,1379.20 L1618.33,1379.19 L1621.23,1379.17 L1624.12,1379.16 L1627.01,1379.14 L1629.91,1379.13 L1632.80,1379.12 L1635.70,1379.10 L1638.59,1379.09 L1641.48,1379.07 L1644.38,1379.06 L1647.27,1379.05 L1650.16,1379.03 L1653.06,1379.02 L1655.95,1379.00 L1658.85,1378.99 L1661.74,1378.98 L1664.63,1378.96 L1667.53,1378.95 L1670.42,1378.93 L1673.31,1378.92 L1676.21,1378.91 L1679.10,1378.89 L1682.00,1378.88 L1684.89,1378.86 L1687.78,1378.85 L1690.68,1378.84 L1693.57,1378.82 L1696.47,1378.81 L1699.36,1378.79 L1702.25,1378.78 L1705.15,1378.77 L1708.04,1378.75 L1710.93,1378.74 L1713.83,1378.72 L1716.72,1378.71 L1719.62,1378.70 L1722.51,1378.68 L1725.40,1378.67 L1728.30,1378.65 L1731.19,1378.64 L1734.08,1378.63 L1736.98,1378.61 L1739.87,1378.60 L1742.77,1378.58 L1745.66,1378.57 L1748.55,1378.55 L1751.45,1378.54 L1754.34,1378.53 L1757.23,1378.51 L1760.13,1378.50 L1763.02,1378.48 L1765.92,1378.47 L1768.81,1378.46 L1771.70,1378.44 L1774.60,1378.43 L1777.49,1378.41 L1780.38,1378.40 L1783.28,1378.38 L1786.17,1378.37 L1789.07,1378.36 L1791.96,1378.34 L1794.85,1378.33 L1797.75,1378.31 L1800.64,1378.30 L1803.54,1378.29 L1806.43,1378.27 L1809.32,1378.26 L1812.22,1378.24 L1815.11,1378.23 L1818.00,1378.21 L1820.90,1378.20 L1823.79,1378.19 L1826.69,1378.17 L1829.58,1378.16 L1832.47,1378.14 L1835.37,1378.13 L1838.26,1378.11 L1841.15,1378.10 L1844.05,1378.09 L1846.94,1378.07 L1849.84,1378.06 L1852.73,1378.04 L1855.62,1378.03 L1858.52,1378.01 L1861.41,1378.00 L1864.30,1377.99 L1867.20,1377.97 L1870.09,1377.96 L1872.99,1377.94 L1875.88,1377.93 L1878.77,1377.91 L1881.67,1377.90 L1884.56,1377.89 L1887.45,1377.87 L1890.35,1377.86 L1893.24,1377.84 L1896.14,1377.83 L1899.03,1377.81 L1901.92,1377.80 L1904.82,1377.78 L1907.71,1377.77 L1910.60,1377.76 L1913.50,1377.74 L1916.39,1377.73 L1919.29,1377.71 L1922.18,1377.70 L1925.07,1377.68 L1927.97,1377.67 L1930.86,1377.65 L1933.76,1377.64 L1936.65,1377.63 L1939.54,1377.61 L1942.44,1377.60 L1945.33,1377.58 L1948.22,1377.57 L1951.12,1377.55 L1954.01,1377.54 L1956.91,1377.52 L1959.80,1377.51 L1962.69,1377.50 L1965.59,1377.48 L1968.48,1377.47 L1971.37,1377.45 L1974.27,1377.44 L1977.16,1377.42 L1980.06,1377.41 L1982.95,1377.39 L1985.84,1377.38 L1988.74,1377.37 L1991.63,1377.35 L1994.52,1377.34 L1997.42,1377.32 L2000.31,1377.31 L2003.21,1377.29 L2006.10,1377.28 L2008.99,1377.26 L2011.89,1377.25 L2014.78,1377.23 L2017.67,1377.22 L2020.57,1377.21 L2023.46,1377.19 L2026.36,1377.18 L2029.25,1377.16" fill="none" stroke="#000" stroke-width="7.5" stroke-dasharray="34 9.3 16.8 9.34"/>
<g id="legend">
<rect x="368.3" y="106.1" width="28" height="26.4" fill="#ff0000"/>
<line x1="317" y1="196.7" x2="447.6" y2="196.7" stroke="#ff0000" stroke-width="7.3"/>
<ellipse cx="383.3" cy="273.3" rx="18" ry="17.2" fill="#0000ff"/>
<line x1="317" y1="349" x2="421" y2="349" stroke="#0000ff" stroke-width="7.5" stroke-dasharray="34.5 34.5"/>
<polygon points="383.2,403.5 362.4,439.3 404.0,439.3" fill="#000"/>
<line x1="317" y1="504" x2="447.2" y2="504" stroke="#000" stroke-width="7.5" stroke-dasharray="34.6 8.6 18 8"/>
<g fill="#000" font-size="66">
<text transform="translate(458.6,145.0) scale(1.047,1)">1000 N (Experiment)</text>
<text transform="translate(458.6,221.4) scale(1.047,1)">1000 N (Theory)</text>
<text transform="translate(458.6,297.8) scale(1.047,1)">3000 N (Experiment)</text>
<text transform="translate(458.6,374.2) scale(1.047,1)">3000 N (Theory)</text>
<text transform="translate(458.6,450.6) scale(1.047,1)">5000 N (Experiment)</text>
<text transform="translate(458.6,527.0) scale(1.047,1)">5000 N (Theory)</text>
</g></g>
</g></svg></body></html>
